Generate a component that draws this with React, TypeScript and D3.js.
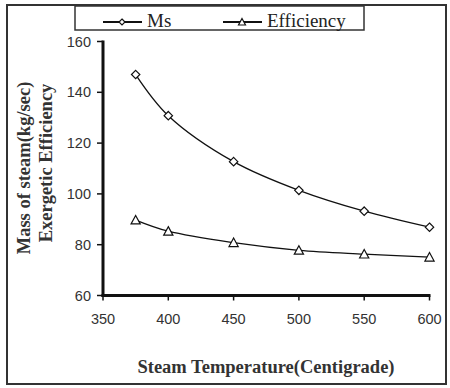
import React from "react";
import * as d3 from "d3";

const temps = [375, 400, 450, 500, 550, 600];
const msValues = [147, 130.8, 112.7, 101.4, 93.2, 86.9];
const effValues = [89.7, 85.3, 80.8, 77.8, 76.3, 75.1];
const xTicks = [350, 400, 450, 500, 550, 600];
const yTicks = [60, 80, 100, 120, 140, 160];
const seriesNames = ["Ms", "Efficiency"];

const W = 450;
const H = 388;
const x = d3.scaleLinear().domain([350, 600]).range([103, 429.5]);
const y = d3.scaleLinear().domain([60, 160]).range([295.5, 41.5]);

const line = d3
  .line<[number, number]>()
  .x((d) => x(d[0]))
  .y((d) => y(d[1]))
  .curve(d3.curveCatmullRom.alpha(0.5));

function Diamond({ cx, cy, r = 4.2 }: { cx: number; cy: number; r?: number }) {
  return (
    <path
      d={`M${cx},${cy - r}L${cx + r},${cy}L${cx},${cy + r}L${cx - r},${cy}Z`}
      fill="#fff"
      stroke="#111"
      strokeWidth={1.2}
    />
  );
}

function Triangle({ cx, cy, s = 4.6 }: { cx: number; cy: number; s?: number }) {
  return (
    <path
      d={`M${cx},${cy - s}L${cx + s},${cy + s * 0.85}L${cx - s},${cy + s * 0.85}Z`}
      fill="#fff"
      stroke="#111"
      strokeWidth={1.2}
    />
  );
}

const serif = "'Liberation Serif', 'Times New Roman', serif";
const sans = "'Liberation Sans', Arial, sans-serif";

export default function App() {
  const msPts = temps.map((t, i) => [t, msValues[i]] as [number, number]);
  const effPts = temps.map((t, i) => [t, effValues[i]] as [number, number]);
  return (
    <svg
      width={W}
      height={H}
      style={{ position: "absolute", left: 0, top: 0, background: "#fff" }}
    >
      <rect x={0} y={0} width={W} height={H} fill="#fff" />
      <rect x={7} y={5} width={439} height={379} fill="none" stroke="#333" strokeWidth={2} />

      {/* legend */}
      <rect x={75} y={6} width={289} height={24} fill="#fff" stroke="#333" strokeWidth={1.5} />
      <line x1={103} x2={142} y1={22} y2={22} stroke="#111" strokeWidth={2} />
      <Diamond cx={122} cy={22} r={3} />
      <text x={147} y={27} fontFamily={serif} fontSize={19} fill="#222">
        {seriesNames[0]}
      </text>
      <line x1={223} x2={262} y1={22} y2={22} stroke="#111" strokeWidth={2} />
      <Triangle cx={242} cy={22} s={3.5} />
      <text x={267} y={27} fontFamily={serif} fontSize={19} fill="#222">
        {seriesNames[1]}
      </text>

      {/* axes */}
      <line x1={x(350)} x2={x(350)} y1={y(160) - 1} y2={y(60) + 1.5} stroke="#111" strokeWidth={3} />
      <line x1={x(350) - 1.5} x2={x(600) + 1} y1={y(60)} y2={y(60)} stroke="#111" strokeWidth={3} />
      {yTicks.map((t) => (
        <g key={"y" + t}>
          <line x1={x(350) - 6} x2={x(350)} y1={y(t)} y2={y(t)} stroke="#111" strokeWidth={1.5} />
          <text x={91} y={y(t) + 5} textAnchor="end" fontFamily={sans} fontSize={14.5} fill="#333">
            {t}
          </text>
        </g>
      ))}
      {xTicks.map((t) => (
        <g key={"x" + t}>
          <line x1={x(t)} x2={x(t)} y1={y(60)} y2={y(60) + 5} stroke="#111" strokeWidth={1.5} />
          <text x={x(t)} y={324} textAnchor="middle" fontFamily={sans} fontSize={14.5} fill="#333">
            {t}
          </text>
        </g>
      ))}

      {/* series */}
      <path d={line(msPts) || ""} fill="none" stroke="#111" strokeWidth={1.3} />
      <path d={line(effPts) || ""} fill="none" stroke="#111" strokeWidth={1.3} />
      {msPts.map((p, i) => (
        <Diamond key={"m" + i} cx={x(p[0])} cy={y(p[1])} />
      ))}
      {effPts.map((p, i) => (
        <Triangle key={"e" + i} cx={x(p[0])} cy={y(p[1])} />
      ))}

      {/* axis titles */}
      <text
        x={266}
        y={373}
        textAnchor="middle"
        fontFamily={serif}
        fontWeight="bold"
        fontSize={18.5}
        fill="#333"
      >
        Steam Temperature(Centigrade)
      </text>
      <text
        transform="translate(29.5,168) rotate(-90)"
        textAnchor="middle"
        fontFamily={serif}
        fontWeight="bold"
        fontSize={18.5}
        fill="#333"
      >
        Mass of steam(kg/sec)
      </text>
      <text
        transform="translate(52,163) rotate(-90)"
        textAnchor="middle"
        fontFamily={serif}
        fontWeight="bold"
        fontSize={18.5}
        fill="#333"
      >
        Exergetic Efficiency
      </text>
    </svg>
  );
}
